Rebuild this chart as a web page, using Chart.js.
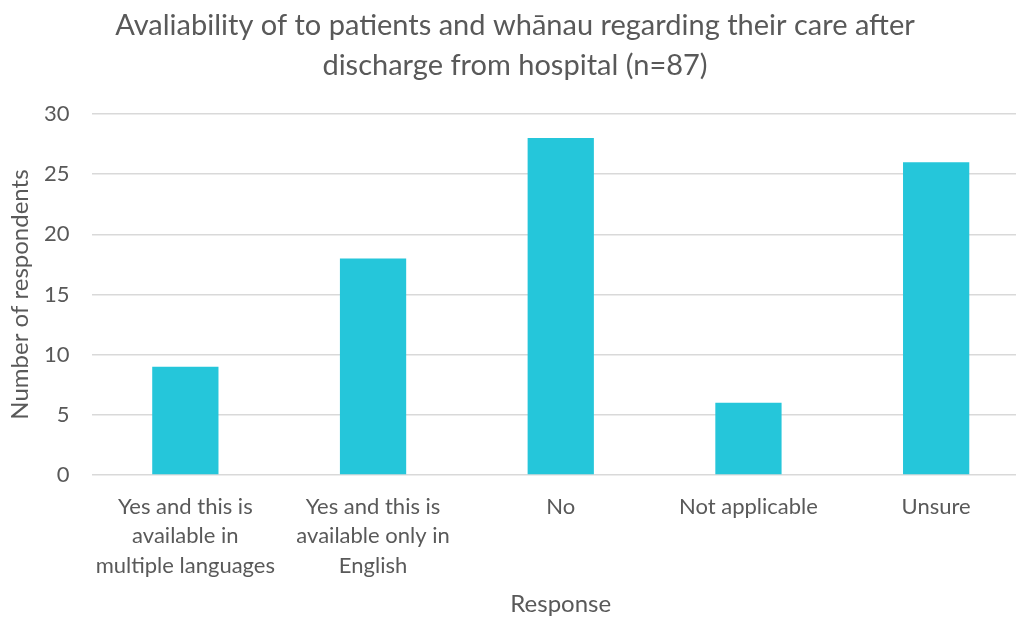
<!DOCTYPE html>
<html>
<head>
<meta charset="utf-8">
<script src="https://cdn.jsdelivr.net/npm/chart.js@4"></script>
<style>
  html, body { margin: 0; padding: 0; background: #fff; overflow: hidden; }
</style>
</head>
<body>
<canvas id="careChart" width="1030" height="621"></canvas>
<script>
// chart data
const categories = [
  ['Yes and this is', 'available in', 'multiple languages'],
  ['Yes and this is', 'available only in', 'English'],
  'No',
  'Not applicable',
  'Unsure'
];
const respondents = [9, 18, 28, 6, 26];
const titleLines = [
  'Avaliability of to patients and wh\u0101nau regarding their care after',
  'discharge from hospital (n=87)'
];

const textColor = '#595959';
const fontFamily = 'Lato, "Open Sans", sans-serif';

const ctx = document.getElementById('careChart').getContext('2d');

new Chart(ctx, {
  type: 'bar',
  data: {
    labels: categories,
    datasets: [
      {
        label: 'Number of respondents',
        data: respondents,
        backgroundColor: '#25C6DA',
        borderWidth: 0,
        barPercentage: 0.353,
        categoryPercentage: 1,
      },
    ],
  },
  options: {
    responsive: false,
    animation: false,
    layout: { padding: 0 },
    plugins: {
      legend: { display: false },
      tooltip: { enabled: false },
      title: {
        display: true,
        text: titleLines,
        color: textColor,
        font: { family: fontFamily, size: 29, weight: 'normal', lineHeight: 1.38 },
        padding: { top: 6, bottom: 28 },
      },
    },
    scales: {
      x: {
        grid: { display: false, drawTicks: false },
        border: { display: false },
        ticks: {
          color: textColor,
          font: { family: fontFamily, size: 22, lineHeight: 1.34 },
          padding: 17,
          maxRotation: 0,
          autoSkip: false,
        },
        title: {
          display: true,
          text: 'Response',
          color: textColor,
          font: { family: fontFamily, size: 24, lineHeight: 1.2 },
          padding: { top: 2, bottom: 2 },
        },
        afterFit: (scale) => { scale.height = 146; },
      },
      y: {
        min: 0,
        max: 30,
        ticks: {
          stepSize: 5,
          color: textColor,
          font: { family: fontFamily, size: 22 },
          padding: 22,
        },
        grid: { color: '#D9D9D9', lineWidth: 1.5, drawTicks: false },
        border: { display: false },
        title: {
          display: true,
          text: 'Number of respondents',
          color: textColor,
          font: { family: fontFamily, size: 24, lineHeight: 1.2 },
          padding: { top: 6, bottom: 0 },
        },
        afterFit: (scale) => { scale.width = 91.5; },
      },
    },
  },
});
</script>
</body>
</html>
